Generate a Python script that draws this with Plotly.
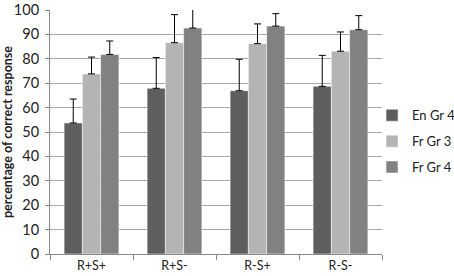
import plotly.graph_objects as go

categories = ["R+S+", "R+S-", "R-S+", "R-S-"]
series_names = ["En Gr 4", "Fr Gr 3", "Fr Gr 4"]
en_gr4 = [53.7, 67.9, 66.9, 68.7]
en_gr4_upper = [63.5, 80.5, 79.8, 81.4]
fr_gr3 = [73.8, 86.6, 86.2, 83.1]
fr_gr3_upper = [80.7, 98.1, 94.3, 91.0]
fr_gr4 = [81.8, 92.6, 93.4, 91.9]
fr_gr4_upper = [87.3, 104.0, 98.5, 97.7]
colors = ["#5e5e5e", "#b4b4b4", "#818181"]
y_ticks = list(range(0, 101, 10))

fig = go.Figure()
for name, vals, ups, col in zip(series_names, [en_gr4, fr_gr3, fr_gr4],
                                [en_gr4_upper, fr_gr3_upper, fr_gr4_upper], colors):
    fig.add_trace(go.Bar(
        x=categories, y=vals, name=name, legendgroup=name,
        marker=dict(color=col, line=dict(color="#ffffff", width=0.5)),
        error_y=dict(type="data", symmetric=False,
                     array=[u - v for u, v in zip(ups, vals)],
                     arrayminus=[0] * len(vals),
                     color="#000000", thickness=1, width=3.5),
        cliponaxis=False,
    ))

fig.update_layout(
    width=454, height=276,
    margin=dict(l=50, r=72, t=10, b=22, autoexpand=False),
    paper_bgcolor="white", plot_bgcolor="white",
    barmode="group", bargap=0.34, bargroupgap=0,
    font=dict(family="Lato, Open Sans, sans-serif", color="#222222", size=12),
    showlegend=True,
    legend=dict(x=0.97, y=0.63, xanchor="left", yanchor="top",
                font=dict(size=13), tracegroupgap=6, itemwidth=30,
                bgcolor="rgba(0,0,0,0)"),
    xaxis=dict(type="category", tickson="boundaries", ticks="outside", ticklen=5,
               tickcolor="#888888", showline=True, linecolor="#888888", linewidth=1,
               showgrid=False, tickfont=dict(size=12.5), automargin=False),
    yaxis=dict(range=[0, 100], tickvals=y_ticks, ticks="outside", ticklen=4,
               tickcolor="#888888", showline=True, linecolor="#888888", linewidth=1,
               showgrid=True, gridcolor="#a8a8a8", gridwidth=1,
               tickfont=dict(size=14.5), automargin=False, ticklabelstandoff=3,
               ticklabeloverflow="allow",
               title=dict(text="<b>percentage of correct response</b>",
                          font=dict(size=12.5), standoff=15)),
)
fig.write_html("out.html", config={"displayModeBar": False},
               post_script="document.body.style.margin='0px';document.body.style.overflow='hidden';")
